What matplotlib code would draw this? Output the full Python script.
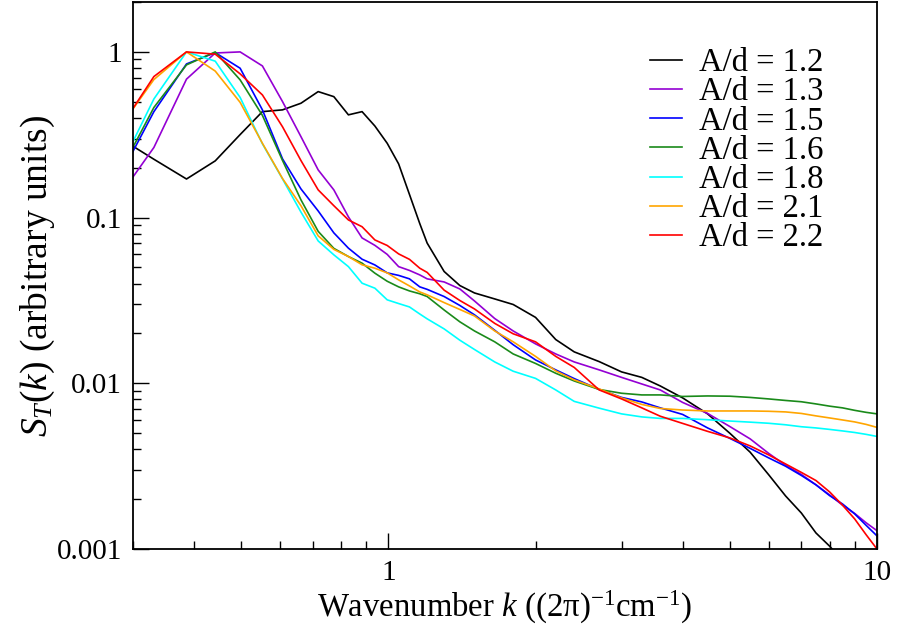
import numpy as np
import matplotlib
matplotlib.use("Agg")
import matplotlib.pyplot as plt
from matplotlib.ticker import LogLocator, NullFormatter, FixedLocator, FixedFormatter

plt.rcParams['font.family'] = ['Liberation Serif', 'DejaVu Serif']
plt.rcParams['mathtext.fontset'] = 'custom'
plt.rcParams['mathtext.rm'] = 'Liberation Serif'
plt.rcParams['mathtext.it'] = 'Liberation Serif:italic'
plt.rcParams['mathtext.bf'] = 'Liberation Serif:bold'

nan = np.nan

# Wavenumber samples, (2 pi)^-1 cm^-1
k = [0.276, 0.331, 0.386, 0.442, 0.497, 0.552, 0.607, 0.662, 0.718, 0.773,
     0.828, 0.883, 0.938, 0.994, 1.049, 1.104, 1.159,
     1.2, 1.3, 1.4, 1.5, 1.65, 1.8, 2.0, 2.2, 2.4, 2.7, 3.0, 3.3, 3.6,
     4.0, 4.5, 5.0, 5.5, 6.0, 6.5, 7.0, 7.5, 8.0, 8.5, 9.0, 9.5, 10.0]

# Normalised temperature spectra S_T(k) for each aspect ratio A/d
s_12 = [0.314, 0.225, 0.171, 0.220, 0.317, 0.436, 0.447, 0.490, 0.576, 0.537,
        0.417, 0.436, 0.357, 0.281, 0.211, 0.138, 0.092,
        0.0702, 0.0473, 0.0389, 0.0351, 0.0323, 0.0299, 0.0250, 0.01837, 0.01548,
        0.01352, 0.01172, 0.01086, 0.00964, 0.00817, 0.00654, 0.00499, 0.00384,
        0.00281, 0.00209, 0.00165, 0.00125, 0.00104, 0.00085, nan, nan, nan]
s_13 = [0.1245, 0.265, 0.685, 0.985, 1.0, 0.823, 0.501, 0.308, 0.194, 0.147,
        0.101, 0.0754, 0.0680, 0.0600, 0.0506, 0.0480, 0.0451,
        0.0427, 0.0409, 0.0371, 0.0314, 0.0246, 0.0207, 0.0173, 0.01504, 0.01346,
        0.01205, 0.01086, 0.00991, 0.00912, 0.00767, 0.00658, 0.00548, 0.00462,
        0.00378, 0.00320, 0.00282, 0.00244, 0.00212, 0.00184, 0.00164, 0.00144, 0.00129]
s_15 = [0.1575, 0.436, 0.846, 0.99, 0.797, 0.447, 0.226, 0.149, 0.1097, 0.0809,
        0.0654, 0.0561, 0.0518, 0.0464, 0.0448, 0.0427, 0.0382,
        0.0369, 0.0334, 0.0295, 0.0259, 0.0209, 0.0171, 0.01384, 0.01205, 0.01068,
        0.00919, 0.00822, 0.00772, 0.00711, 0.00649, 0.00538, 0.00465, 0.00405,
        0.00355, 0.00316, 0.00278, 0.00244, 0.00210, 0.00187, 0.00163, 0.00139, 0.00120]
s_16 = [0.167, 0.462, 0.835, 1.0, 0.678, 0.414, 0.221, 0.128, 0.0826, 0.0652,
        0.0582, 0.0531, 0.0462, 0.0413, 0.0382, 0.0361, 0.0347,
        0.0334, 0.0277, 0.0235, 0.0207, 0.0178, 0.01504, 0.01318, 0.01150, 0.01033,
        0.00918, 0.00871, 0.00851, 0.00851, 0.00833, 0.00839, 0.00836, 0.00822,
        0.00805, 0.00788, 0.00774, 0.00751, 0.00728, 0.00711, 0.00687, 0.00668, 0.00654]
s_18 = [0.1746, 0.520, 1.0, 0.879, 0.531, 0.279, 0.171, 0.108, 0.0723, 0.0596,
        0.0506, 0.0402, 0.0375, 0.0319, 0.0303, 0.0289, 0.0262,
        0.0245, 0.0213, 0.0182, 0.0160, 0.01346, 0.01183, 0.01071, 0.00912, 0.00778,
        0.00708, 0.00654, 0.00627, 0.00614, 0.00614, 0.00603, 0.00592, 0.00583,
        0.00574, 0.00562, 0.00547, 0.00538, 0.00527, 0.00516, 0.00505, 0.00492, 0.00478]
s_21 = [0.321, 0.681, 1.0, 0.766, 0.496, 0.281, 0.172, 0.118, 0.0776, 0.0643,
        0.0582, 0.0519, 0.0495, 0.0464, 0.0421, 0.0387, 0.0356,
        0.0342, 0.0307, 0.0279, 0.0255, 0.0207, 0.0178, 0.01454, 0.01188, 0.01049,
        0.00925, 0.00816, 0.00746, 0.00705, 0.00690, 0.00681, 0.00681, 0.00681,
        0.00678, 0.00672, 0.00658, 0.00636, 0.00618, 0.00601, 0.00585, 0.00565, 0.00542]
s_22 = [0.314, 0.710, 1.0, 0.969, 0.737, 0.550, 0.353, 0.221, 0.147, 0.118,
        0.0968, 0.0881, 0.0733, 0.0679, 0.0604, 0.0560, 0.0495,
        0.0467, 0.0365, 0.0316, 0.0281, 0.0230, 0.0199, 0.0178, 0.01454, 0.01247,
        0.00912, 0.00805, 0.00711, 0.00633, 0.00573, 0.00513, 0.00468, 0.00419,
        0.00370, 0.00326, 0.00290, 0.00259, 0.00221, 0.00184, 0.00152, 0.00122, 0.00100]

labels = ["A/d = 1.2", "A/d = 1.3", "A/d = 1.5", "A/d = 1.6",
          "A/d = 1.8", "A/d = 2.1", "A/d = 2.2"]
series = [s_12, s_13, s_15, s_16, s_18, s_21, s_22]
colors = ["#000000", "#9400d3", "#0000ff", "#1a8a1a", "#00ffff", "#ffa500", "#ff0000"]

xticks = [1, 10]
xticklabels = ["1", "10"]
yticks = [0.001, 0.01, 0.1, 1]
yticklabels = ["0.001", "0.01", "0.1", "1"]

fig = plt.figure(figsize=(8.97, 6.32), dpi=100)
ax = fig.add_axes([0.1483, 0.1313, 0.8294, 0.8655])

for vals, lab, col in zip(series, labels, colors):
    ax.plot(k, vals, color=col, lw=1.2, label=lab)

ax.set_xscale('log')
ax.set_yscale('log')
ax.set_xlim(0.3, 10)
ax.set_ylim(0.001, 2)

ax.xaxis.set_major_locator(FixedLocator(xticks))
ax.xaxis.set_major_formatter(FixedFormatter(xticklabels))
ax.yaxis.set_major_locator(FixedLocator(yticks))
ax.yaxis.set_major_formatter(FixedFormatter(yticklabels))
ax.xaxis.set_minor_locator(LogLocator(base=10, subs=np.arange(2, 10), numticks=20))
ax.yaxis.set_minor_locator(LogLocator(base=10, subs=np.arange(2, 10), numticks=20))
ax.xaxis.set_minor_formatter(NullFormatter())
ax.yaxis.set_minor_formatter(NullFormatter())

ax.tick_params(which='both', direction='in', top=False, right=False)
ax.tick_params(which='major', length=11.5, width=1.0, labelsize=21, pad=8)
ax.tick_params(which='minor', length=6, width=1.0)
for sp in ax.spines.values():
    sp.set_linewidth(1.3)

ax.set_xlabel("Wavenumber $k$ ((2\u03c0)$^{-1}$cm$^{-1}$)", fontsize=23.6, labelpad=2)
ax.set_ylabel(r"$S_T(k)$ (arbitrary units)", fontsize=27)
ax.yaxis.set_label_coords(-0.102, 0.5)

leg = ax.legend(loc='upper left', bbox_to_anchor=(0.695, 0.9165), frameon=False,
                fontsize=23.5, handlelength=0.98, handletextpad=0.52,
                labelspacing=-0.04, borderpad=0, borderaxespad=0)

fig.savefig("out.png", dpi=100)
